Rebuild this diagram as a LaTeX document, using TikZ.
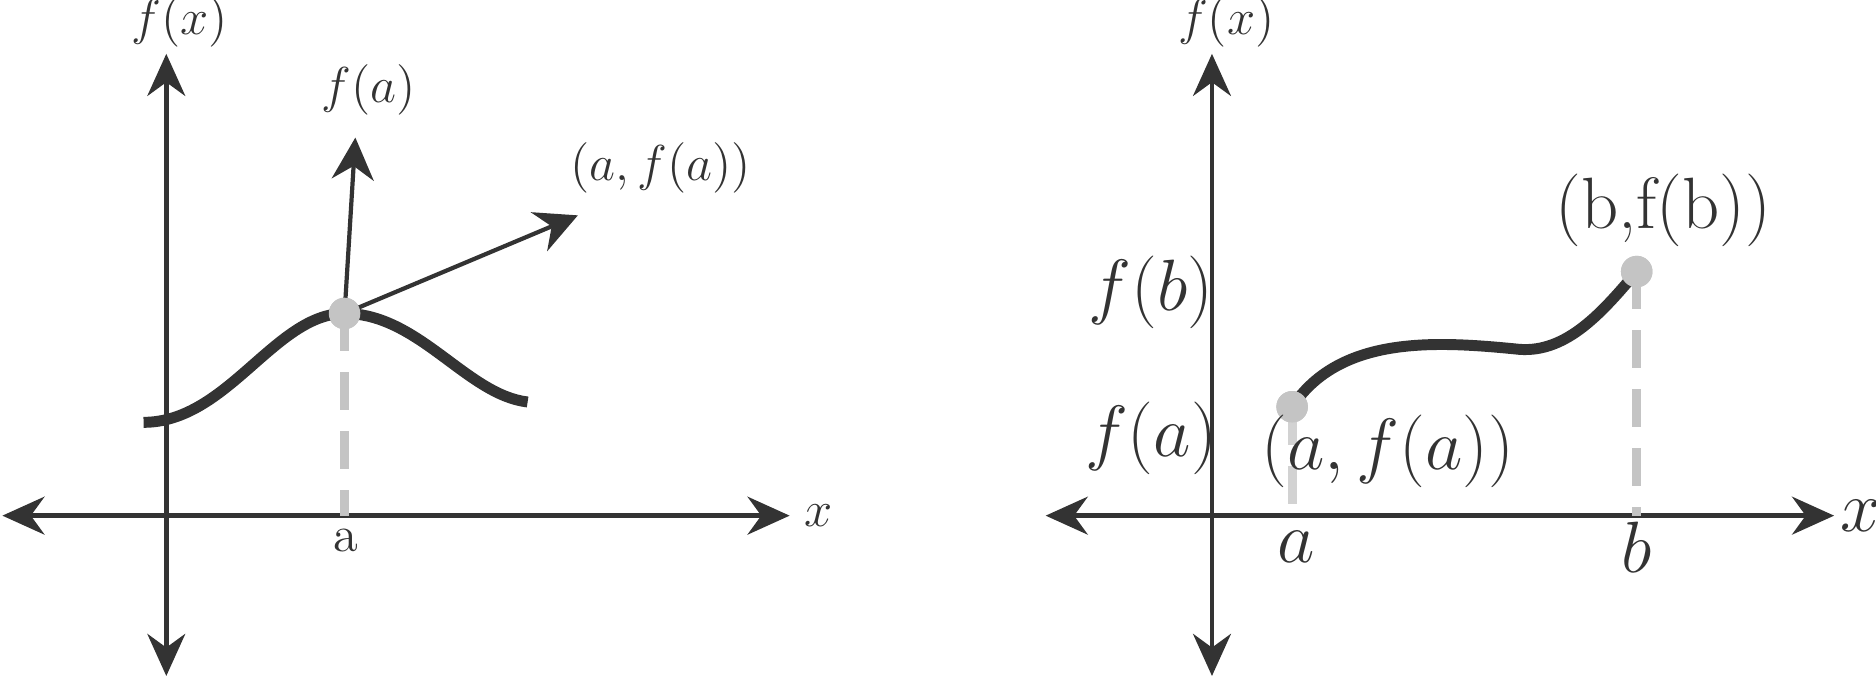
\documentclass[tikz,border=0pt]{standalone}
\usepackage{amsmath}
\usepackage{tikz}
\usetikzlibrary{positioning, arrows.meta}
\definecolor{ink}{HTML}{333333}
\definecolor{dotgray}{HTML}{C4C4C4}
\definecolor{lightdash}{HTML}{D2D2D2}

\begin{document}
\begin{tikzpicture}[x=0.01cm, y=-0.01cm,
    axis/.style={draw=ink, line width=1.1pt, {Stealth[length=10pt, width=9pt]}-{Stealth[length=10pt, width=9pt]}},
    vec/.style={draw=ink, line width=1pt, -{Stealth[length=10pt, width=10pt]}},
    curve/.style={draw=ink, line width=2.6pt},
    drop/.style={draw=dotgray, line width=2.2pt, dash pattern=on 9pt off 5pt},
    pt/.style={circle, fill=dotgray, inner sep=0pt, minimum size=7.5pt},
    lbl/.style={text=ink, inner sep=1pt}]
\useasboundingbox (0,0) rectangle (1568,567);

% left graph
\coordinate (ly1) at (139,45);
\coordinate (ly2) at (139,565);
\coordinate (lx1) at (2,431);
\coordinate (lx2) at (660,431);
\coordinate (la) at (288,431);
\coordinate (lup) at (297,115);
\coordinate (ltan) at (483,180);
\node[pt] (lp) at (288,262) {};
\draw[axis] (ly1) -- (ly2);
\draw[axis] (lx1) -- (lx2);
\draw[drop] (lp.center) -- (la);
\draw[curve] (120,353) .. controls (190,353) and (230,262) .. (lp.center)
    .. controls (350,262) and (390,330) .. (441,336);
\draw[vec] (lp.center) -- (lup);
\draw[vec] (lp.center) -- (ltan);
\node[pt] at (lp) {};
\node[lbl, font=\large] (lfx) at (150,18) {$f(x)$};
\node[lbl, font=\large] (lx) at (684,431) {$x$};
\node[lbl, font=\large] (lalbl) at (289,452) {a};
\node[lbl, font=\large] (lfa) at (308,75) {$f(a)$};
\node[lbl, font=\large] (lafa) at (552,140) {$(a,f(a))$};

% right graph
\coordinate (ry1) at (1013,45);
\coordinate (ry2) at (1013,565);
\coordinate (rx1) at (874,431);
\coordinate (rx2) at (1533,431);
\coordinate (ra) at (1080,431);
\coordinate (rb) at (1368,431);
\node[pt] (pa) at (1080,340) {};
\node[pt] (pb) at (1368,227) {};
\draw[axis] (ry1) -- (ry2);
\draw[axis] (rx1) -- (rx2);
\draw[drop, draw=lightdash] (pa.center) -- (ra);
\draw[drop] (pb.center) -- (rb);
\draw[curve] (pa.center) .. controls (1120,280) and (1200,285) .. (1270,292)
    .. controls (1310,295) and (1340,260) .. (pb.center);
\node[pt] at (pa) {};
\node[pt] at (pb) {};
\node[lbl, font=\large] (rfx) at (1025,18) {$f(x)$};
\node[lbl, font=\LARGE] (rx) at (1555,431) {$x$};
\node[lbl, font=\LARGE] (ralbl) at (1083,457) {$a$};
\node[lbl, font=\LARGE] (rblbl) at (1368,457) {$b$};
\node[lbl, font=\LARGE] (rfa) at (962,366) {$f(a)$};
\node[lbl, font=\LARGE] (rfb) at (962,244) {$f(b)$};
\node[lbl, font=\LARGE] (rafa) at (1160,377) {$(a,f(a))$};
\node[lbl, font=\LARGE] (rbfb) at (1390,176) {(b,f(b))};
\end{tikzpicture}
\end{document}
